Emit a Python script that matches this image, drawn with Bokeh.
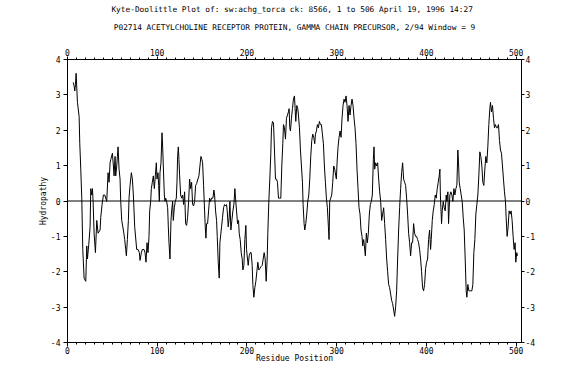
from bokeh.plotting import figure
from bokeh.models import Range1d, LinearAxis, FixedTicker, Span, Title
from bokeh.embed import file_html
from bokeh.resources import INLINE

TITLE_1 = "Kyte-Doolittle Plot of: sw:achg_torca ck: 8566, 1 to 506  April 19, 1996 14:27"
TITLE_2 = "P02714 ACETYLCHOLINE RECEPTOR PROTEIN, GAMMA CHAIN PRECURSOR, 2/94 Window = 9"
X_LABEL = "Residue Position"
Y_LABEL = "Hydropathy"
X_MAX = 506
X_TICKS = [0, 100, 200, 300, 400, 500]
X_MINOR_TICKS = list(range(0, 507, 10))
Y_TICKS = [-4, -3, -2, -1, 0, 1, 2, 3, 4]
Y_TICK_LABELS = {t: str(t) for t in Y_TICKS}

# residue positions / hydropathy values
res_1 = [5.90, 6.64, 7.38, 8.12, 8.87, 9.61, 11.09, 12.95, 13.69, 14.80, 15.91, 17.03, 18.51, 20.37, 21.48,
         22.22, 23.70, 25.19, 25.93, 27.04, 27.78, 28.53, 29.64, 31.12, 32.61, 34.09, 36.32, 37.06, 38.54,
         40.03, 41.51, 43.74, 45.22, 46.33, 47.44, 48.19, 50.04, 51.15, 51.90, 53.01, 53.75, 54.86, 55.61,
         56.35, 57.46, 58.57, 59.32, 60.43, 62.28, 63.77, 64.88, 65.62, 66.73, 67.85, 68.59, 69.70, 71.18,
         72.30, 73.41, 74.89, 77.12, 78.60, 80.09]
hyd_1 = [3.35, 3.34, 3.25, 3.11, 3.29, 3.61, 2.79, 2.39, 1.62, 0.90, 0.08, -1.37, -2.18, -2.27, -1.27,
         -1.64, -1.23, -0.73, 0.35, 0.17, 0.35, -0.01, -0.91, -1.46, -0.55, -0.91, -0.82, -0.46, -0.10,
         0.17, 0.17, -0.01, 0.80, 0.53, 1.08, 1.17, 1.35, 0.99, 0.71, 1.26, 0.71, 0.99, 1.26,
         1.53, 0.90, 0.62, -0.01, -0.55, -0.82, -1.09, -1.37, -1.55, -1.09, -0.55, 0.08, 0.44, 0.80,
         0.62, 0.17, -0.73, -1.37, -1.37, -1.46]

res_2 = [80.83, 82.32, 83.43, 85.28, 86.40, 87.51, 88.62, 89.73, 90.85, 91.59,
         92.70, 93.44, 94.56, 95.67, 96.78, 97.90, 99.01, 99.75, 100.86, 101.61,
         102.35, 103.09, 104.20, 105.31, 106.06, 106.80, 107.91, 108.65, 109.40, 110.51,
         111.62, 112.36, 113.11, 114.22, 115.33, 116.07, 117.19, 117.93, 119.04, 120.15,
         121.27, 122.01, 122.75, 123.49, 124.23, 124.98, 126.09, 127.20, 128.31, 129.43,
         130.54, 131.65, 132.76, 133.88, 134.99, 136.10, 137.22, 138.33, 139.44, 140.55,
         141.67, 142.78, 143.89, 145.37, 146.49, 147.60, 148.71, 149.83, 150.57, 151.68,
         152.80, 153.54, 154.28, 155.02, 156.14, 157.25, 158.36, 159.47, 160.59, 162.07,
         163.18, 163.93]
hyd_2 = [-1.68, -1.46, -1.37, -1.37, -1.46, -1.73, -1.18, -1.46, -1.00, -0.28,
         -0.01, 0.35, 0.53, 0.71, 0.35, 0.71, 1.08, 0.62, 0.80, 0.44,
         -0.01, 0.80, 1.08, 1.93, 1.53, 0.99, 0.17, -0.01, 0.08, -0.01,
         -0.19, -0.73, -1.18, -1.64, -0.55, -0.28, -0.01, -0.55, -0.19, -0.01,
         0.08, 0.53, 1.26, 1.53, 1.17, 0.71, 0.17, 0.08, 0.17, -0.10,
         0.26, -0.64, -0.69, -0.46, -0.01, 0.62, 0.35, 0.53, -0.10, -0.14,
         -0.01, 0.44, 0.49, 0.62, 0.71, 0.99, 1.26, 1.17, 1.08, 0.44,
         -0.28, -0.73, -1.05, -0.64, -0.64, -0.28, 0.08, -0.01, 0.08, 0.08,
         0.31, 0.17]

res_3 = [165.03, 166.15, 166.89, 168.00, 169.11, 169.86, 170.97, 171.71, 172.82, 173.94,
         175.05, 176.16, 177.28, 178.02, 179.13, 180.24, 180.99, 182.10, 183.21, 184.32,
         185.44, 186.55, 187.29, 188.40, 189.52, 190.63, 191.37, 192.48, 193.60, 194.71,
         195.45, 196.57, 197.68, 198.79, 199.53, 200.65, 201.39, 202.50, 203.61, 204.73,
         205.84, 206.58, 207.69, 208.81, 209.92, 211.03, 212.14, 213.26, 214.37, 215.48,
         216.97, 218.08, 219.19, 220.31, 221.42, 222.53, 223.27, 224.39, 225.50, 226.61,
         227.35, 228.47, 229.58, 230.69, 231.80, 232.92, 234.03, 235.14, 236.63, 237.74,
         238.85, 239.97, 240.71, 241.82, 242.93, 244.05, 245.16, 246.27, 247.01, 247.76]
hyd_3 = [-0.28, -0.55, -1.00, -1.73, -2.18, -1.18, -0.91, -0.73, -0.46, -0.19,
         -0.10, -0.14, -0.10, -0.28, -0.73, -0.46, -0.01, -0.82, -0.55, -0.28,
         -0.10, 0.35, 0.08, -0.28, -0.64, -0.55, -0.91, -1.09, -1.46, -1.64,
         -1.95, -1.82, -1.09, -0.69, -1.37, -1.64, -1.82, -1.55, -1.46, -1.46,
         -1.82, -2.36, -2.72, -2.45, -2.27, -2.00, -1.73, -1.95, -1.91, -1.86,
         -1.82, -1.64, -1.46, -1.64, -2.27, -1.64, -0.91, -0.01, 0.62, 1.35,
         2.07, 2.25, 2.21, 1.44, 0.62, 0.62, 0.53, 0.08, 0.08, 0.08,
         0.99, 1.62, 2.16, 2.07, 1.75, 2.34, 2.43, 2.52, 2.61, 2.07]

res_4 = [248.49, 249.61, 250.72, 251.83, 252.95, 253.69, 254.43, 255.54, 256.66, 257.40,
         258.51, 259.62, 260.74, 261.85, 262.59, 263.70, 264.45, 265.56, 266.67, 267.79,
         268.90, 270.01, 271.12, 272.24, 273.35, 274.46, 275.57, 276.32, 277.43, 278.54,
         279.65, 280.77, 281.88, 282.99, 284.10, 285.22, 286.33, 287.44, 288.56, 289.67,
         290.78, 291.52, 292.27, 293.38, 294.49, 295.60, 296.72, 297.83, 298.94, 299.68,
         300.43, 301.54, 302.65, 303.77, 304.88, 305.99, 307.10, 308.22, 309.33, 310.44,
         311.55, 312.67, 313.78, 314.89, 316.00, 317.12, 318.23, 319.35, 320.46, 321.57,
         322.69, 323.80, 324.91, 326.02, 327.14, 328.25, 328.99, 330.10]
hyd_4 = [1.98, 2.34, 2.61, 2.88, 2.97, 2.61, 2.25, 2.70, 2.61, 2.43,
         2.07, 1.44, 0.99, 0.53, -0.10, -0.64, -0.82, -0.64, -0.37, -0.01,
         0.17, 0.62, 1.26, 1.71, 1.89, 1.80, 1.62, 1.89, 1.98, 2.16,
         2.07, 2.25, 2.16, 2.16, 1.89, 1.62, 0.99, 0.53, 0.08, -0.19,
         -0.73, -1.09, -0.01, 0.08, 0.17, 0.53, 0.99, 0.90, 0.71, 0.62,
         1.08, 1.53, 1.80, 1.98, 1.80, 2.34, 2.70, 2.88, 2.79, 2.97,
         2.70, 2.25, 2.70, 2.43, 2.70, 2.88, 2.70, 2.34, 2.07, 1.62,
         0.90, 0.35, -0.19, -0.37, -0.82, -1.00, -1.27, -1.09]

res_5 = [330.85, 331.96, 333.08, 334.19, 335.30, 336.42, 337.53, 338.64, 339.75, 340.87,
         341.61, 342.35, 343.46, 344.58, 345.69, 346.80, 347.92, 349.03, 350.14, 351.25,
         352.37, 353.48, 354.59, 355.70, 356.82, 357.93, 359.04, 360.16, 361.27, 362.38,
         363.50, 364.61, 365.72, 366.83, 367.95, 369.06, 370.17, 371.28, 372.40, 373.51,
         374.62, 375.74, 376.85, 377.96, 379.07, 380.19, 381.30, 382.41, 383.53, 384.64,
         385.75, 386.86, 387.98, 389.09, 390.20, 391.32, 392.43, 393.54, 394.65, 395.77,
         396.88, 397.99, 399.11, 400.22, 401.33, 402.44, 403.56, 404.67, 405.41, 406.53,
         407.64, 408.75, 409.86, 410.98, 412.09, 413.20, 414.31, 415.06]
hyd_5 = [-1.27, -1.55, -0.91, -1.18, -0.91, -0.37, -0.10, -0.01, 0.17, 1.17,
         1.53, 0.90, 1.08, 0.99, 1.08, 0.62, 0.26, -0.01, -0.55, -0.37,
         -0.19, -0.64, -1.09, -1.64, -2.00, -2.36, -2.45, -2.63, -2.81, -2.90,
         -3.08, -3.26, -2.99, -2.54, -1.64, -0.82, -0.19, 0.35, 0.80, 1.08,
         0.62, 0.53, 0.44, 0.08, -0.37, -0.91, -1.18, -1.55, -1.18, -1.18,
         -0.64, -0.91, -1.00, -1.00, -1.09, -1.18, -1.37, -1.64, -2.00, -2.45,
         -2.54, -2.36, -1.91, -1.73, -1.64, -1.09, -0.82, -1.37, -1.09, -0.55,
         -0.28, -0.10, 0.17, 0.08, 0.35, 0.53, 0.71, 0.90]

res_6 = [415.60, 416.17, 416.91, 417.65, 418.76, 419.88, 420.99, 422.10, 422.84, 423.96,
         424.70, 425.44, 426.18, 427.29, 428.41, 429.52, 430.63, 431.75, 432.86, 433.97,
         435.08, 435.83, 436.57, 437.68, 438.79, 439.91, 441.02, 442.13, 443.25, 444.36,
         445.10, 446.21, 447.33, 448.44, 449.55, 450.66, 451.78, 452.89, 454.00, 455.12,
         456.23, 457.34, 458.45, 459.57, 460.68, 461.79, 462.90, 464.02, 465.13, 466.24,
         467.36, 468.47, 469.58, 470.69, 471.44, 472.55, 473.66, 474.78, 475.89, 477.00,
         478.11, 479.23, 480.34, 481.45, 482.57, 483.68, 484.79, 485.90, 487.02, 488.13,
         488.87, 489.99, 491.10, 492.21, 493.32, 494.44, 495.55, 496.66, 497.78, 498.89,
         499.63, 500.74, 501.48]
hyd_6 = [0.17, -0.19, -0.64, -0.28, -0.01, -0.19, -0.28, 0.17, -0.01, 0.26,
         -0.64, -0.19, 0.17, 0.26, 0.17, -0.01, 0.35, 0.17, 0.35, 0.44,
         1.44, 1.08, 0.53, 0.35, 0.17, -0.01, -0.46, -0.82, -1.64, -2.54,
         -2.72, -2.36, -2.54, -2.54, -2.54, -2.54, -2.36, -1.46, -1.09, -0.37,
         -0.10, 0.17, 0.71, 1.39, 1.26, 0.99, 0.53, 0.44, 0.90, 1.26,
         1.08, 1.53, 2.16, 2.61, 2.79, 2.52, 2.70, 2.34, 2.07, 2.16,
         2.07, 2.07, 2.16, 1.71, 1.44, 1.35, 0.99, 0.62, 0.26, -0.01,
         -0.46, -1.00, -0.73, -0.28, -0.37, -0.28, -0.55, -1.00, -1.37, -1.18,
         -1.73, -1.46, -1.55]

residues, hydropathy = [], []
for rs, hs in [(res_1, hyd_1), (res_2, hyd_2), (res_3, hyd_3),
               (res_4, hyd_4), (res_5, hyd_5), (res_6, hyd_6)]:
    n = min(len(rs), len(hs))
    residues += rs[:n]
    hydropathy += hs[:n]

FONT = "DejaVu Sans Mono"

p = figure(width=567, height=365, output_backend="svg", toolbar_location=None,
           x_range=Range1d(0, X_MAX), y_range=Range1d(-4, 4),
           title=None, min_border_left=67, min_border_right=46,
           min_border_top=59, min_border_bottom=20,
           background_fill_color="white", border_fill_color="white")
p.outline_line_color = None
p.xgrid.visible = False
p.ygrid.visible = False

x_ticker = FixedTicker(ticks=X_TICKS, minor_ticks=X_MINOR_TICKS)
y_ticker = FixedTicker(ticks=Y_TICKS, minor_ticks=[])


def style_axis(ax, is_x):
    ax.axis_line_color = "black"
    ax.axis_line_width = 1
    ax.major_tick_line_color = "black"
    ax.major_tick_in = 0
    ax.major_tick_out = 4
    ax.major_label_text_font = FONT
    ax.major_label_text_font_size = "8px"
    ax.major_label_text_color = "black"
    ax.major_label_standoff = 1
    if is_x:
        ax.minor_tick_line_color = "black"
        ax.minor_tick_in = 0
        ax.minor_tick_out = 2
    else:
        ax.minor_tick_line_color = None
        ax.major_label_overrides = Y_TICK_LABELS
    ax.axis_label_text_font = FONT
    ax.axis_label_text_font_size = "8px"
    ax.axis_label_text_font_style = "normal"
    ax.axis_label_text_color = "black"
    ax.axis_label_standoff = 0


# bottom axis with the axis title
xb = p.xaxis[0]
xb.ticker = x_ticker
xb.axis_label = X_LABEL
style_axis(xb, True)
xb.major_label_standoff = 0
xb.axis_label_standoff = -3

# left axis
yl = p.yaxis[0]
yl.ticker = y_ticker
yl.axis_label = Y_LABEL
style_axis(yl, False)
yl.major_label_standoff = 3
yl.axis_label_standoff = 0

# top axis; its label carries the second heading line
xt = LinearAxis(ticker=x_ticker, axis_label=TITLE_2)
style_axis(xt, True)
xt.major_tick_out = 3
xt.major_label_standoff = 1
xt.axis_label_text_font_size = "7.8px"
xt.axis_label_standoff = 14
p.add_layout(xt, "above")

# right axis
yr = LinearAxis(ticker=y_ticker)
style_axis(yr, False)
yr.major_tick_out = 3
yr.major_label_standoff = 1
p.add_layout(yr, "right")

t1 = Title(text=TITLE_1, align="center", vertical_align="top", standoff=8,
           text_font=FONT, text_font_size="7.8px", text_font_style="normal",
           text_color="black")
p.add_layout(t1, "above")

p.add_layout(Span(location=0, dimension="width", line_color="black", line_width=1))
p.line(residues, hydropathy, line_color="black", line_width=1)

open("out.html", "w").write(file_html(p, INLINE))
